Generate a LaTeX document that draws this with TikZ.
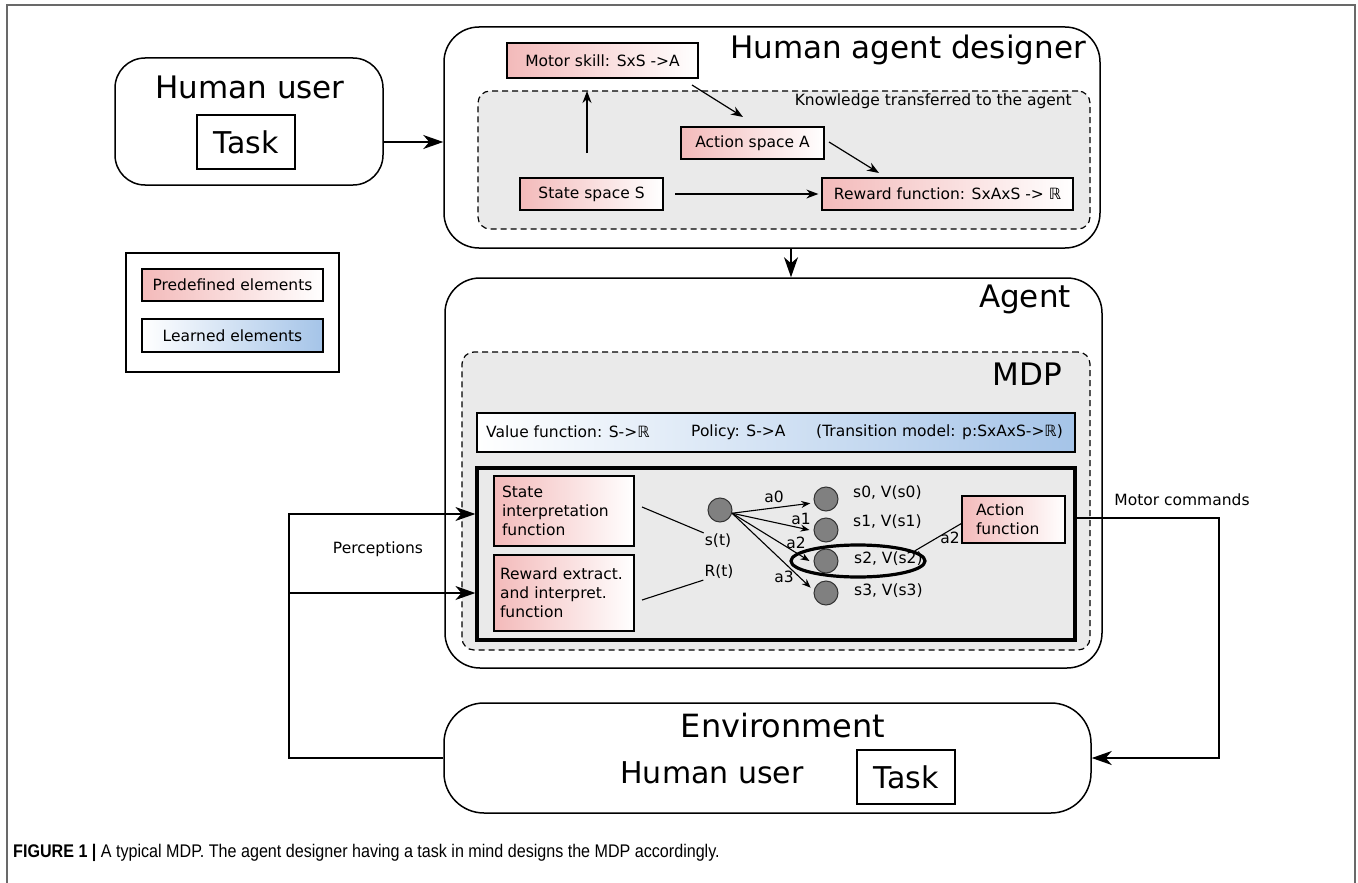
\documentclass[tikz,border=0pt]{standalone}
\usepackage{fontspec}
\setmainfont{DejaVu Sans}
\newfontfamily\capfont[FakeStretch=0.88]{Liberation Sans}
\usetikzlibrary{arrows.meta,shapes.geometric}
\definecolor{pinkL}{RGB}{243,186,186}
\definecolor{blueR}{RGB}{165,196,232}
\definecolor{panel}{RGB}{234,234,234}
\definecolor{framec}{RGB}{105,105,105}
\definecolor{circ}{RGB}{128,128,128}
\begin{document}
\begin{tikzpicture}[x=1pt,y=-1pt,
  txt/.style={font=\fontsize{15.5}{19}\selectfont, inner sep=1pt},
  ttl/.style={font=\fontsize{31}{36}\selectfont, inner sep=0pt},
  bigbox/.style={draw, line width=1.5pt, rounded corners=35pt, inner sep=0pt},
  dashbox/.style={draw, line width=1.2pt, dash pattern=on 6pt off 4pt, fill=panel, rounded corners=12pt, inner sep=0pt},
  predef/.style={draw, line width=1.3pt, left color=pinkL, right color=white, inner sep=0pt, font=\fontsize{15.5}{19}\selectfont},
  learned/.style={draw, line width=1.3pt, left color=white, right color=blueR, inner sep=0pt, font=\fontsize{15.5}{19}\selectfont},
  taskbox/.style={draw, line width=1.3pt, fill=white, inner sep=0pt, font=\fontsize{30}{36}\selectfont},
  arr/.style={-{Stealth[length=12pt,width=9pt]}, line width=1.2pt},
  sarr/.style={-{Stealth[length=9pt,width=7pt]}, line width=1.1pt},
  bigarr/.style={-{Stealth[length=20pt,width=14pt,inset=6pt]}, line width=1.5pt},
  state/.style={circle, draw=black!80, fill=circ, line width=1pt, minimum size=24pt, inner sep=0pt},
]
\useasboundingbox (0,0) rectangle (1358,883);
\fill[white] (0,0) rectangle (1358,883);
% frame
\draw[framec, line width=1.5pt] (7,883) -- (7,5) -- (1355,5) -- (1355,883);

% Human user (top)
\node[bigbox, rounded corners=30pt, minimum width=268pt, minimum height=127pt] (hu) at (249,121.5) {};
\node[ttl] (hut) at (250,87) {Human user};
\node[taskbox, minimum width=98pt, minimum height=54pt] (task1) at (246,142) {Task};

% Human agent designer
\node[bigbox, minimum width=656pt, minimum height=221pt] (had) at (772,137.5) {};
\node[ttl, anchor=east] (hadt) at (1086,50) {Human agent designer};
\node[dashbox, minimum width=612pt, minimum height=138pt] (know) at (784,160) {};
\node[txt, anchor=east] (knowt) at (1073,101) {Knowledge transferred to the agent};
\node[predef, minimum width=191pt, minimum height=35pt] (ms) at (602.5,60.5) {Motor skill: SxS ->A};
\node[predef, minimum width=143pt, minimum height=32pt] (as) at (752.5,143) {Action space A};
\node[predef, minimum width=143pt, minimum height=32pt] (ss) at (591.5,194) {State space S};
\node[predef, minimum width=251pt, minimum height=32pt] (rf) at (947.5,194) {Reward function: SxAxS -> ℝ};
\coordinate (u1) at (587,153);
\coordinate (u2) at (587,91);
\draw[arr] (u1) -- (u2);
\coordinate (m1) at (692,85);
\coordinate (m2) at (743,117);
\draw[arr] (m1) -- (m2);
\coordinate (r1) at (829,142);
\coordinate (r2) at (879,173);
\draw[arr] (r1) -- (r2);
\coordinate (s1) at (675,194);
\draw[arr] (s1) -- ([xshift=-3pt]rf.west);

\draw[bigarr] (hu.east |- task1) -- (had.west |- task1);

% Legend
\node[draw, line width=1.3pt, minimum width=213pt, minimum height=119pt, inner sep=0pt] (leg) at (232.5,312.5) {};
\node[predef, minimum width=181pt, minimum height=32pt] (pred) at (232.5,285) {Predefined elements};
\node[learned, minimum width=181pt, minimum height=33pt] (lrn) at (232.5,335.5) {Learned elements};

% Agent
\node[bigbox, minimum width=657pt, minimum height=390pt] (agent) at (773.5,473) {};
\coordinate (hx) at (791,0);
\draw[bigarr] (had.south -| hx) -- (agent.north -| hx);
\node[ttl, anchor=east] (agentt) at (1071,299) {Agent};
\node[dashbox, minimum width=628pt, minimum height=298pt] (mdp) at (776,501) {};
\node[ttl, anchor=east] (mdpt) at (1062,374) {MDP};
\node[learned, minimum width=598pt, minimum height=39pt] (vf) at (776,432.5) {};
\node[txt, anchor=west] (vf1) at (485,432) {Value function: S->ℝ};
\node[txt, anchor=west] (vf2) at (690,432) {Policy: S->A};
\node[txt, anchor=west] (vf3) at (815,432) {(Transition model: p:SxAxS->ℝ)};
\node[draw, line width=3.2pt, fill=panel, minimum width=598pt, minimum height=172pt, inner sep=0pt] (thick) at (776,554) {};

\node[predef, text width=124pt, inner xsep=8pt, align=left, minimum height=70pt] (si) at (564,511) {State\\interpretation\\function};
\node[predef, text width=128pt, inner xsep=6pt, align=left, minimum height=76pt] (re) at (564,593) {\mbox{Reward extract.}\\\mbox{and interpret.}\\function};
\node[predef, text width=75pt, inner xsep=14pt, align=left, minimum height=47pt] (af) at (1013.5,519.5) {Action\\function};

\node[txt] (st) at (718,541) {s(t)};
\node[txt] (rt) at (719,572) {R(t)};
\coordinate (siL) at (642,507);
\coordinate (reL) at (642,600);
\draw[line width=1.1pt] (siL) -- (st.north west);
\draw[line width=1.1pt] (reL) -- (rt.south west);

\node[state] (src) at (720,510) {};
\node[state] (c0) at (826,499) {};
\node[state] (c1) at (826,530) {};
\node[state] (c2) at (826,561) {};
\node[state] (c3) at (826,593) {};
\draw[sarr] (src.-15) -- ([xshift=-4pt]c0.200);
\draw[sarr] (src.-15) -- ([xshift=-4pt]c1.west);
\draw[sarr] (src.-15) -- ([xshift=-4pt]c2.west);
\draw[sarr] (src.-15) -- ([xshift=-4pt]c3.155);
\node[txt] (la0) at (774,497) {a0};
\node[txt] (la1) at (801,519) {a1};
\node[txt] (la2) at (796,543) {a2};
\node[txt] (la3) at (784,577) {a3};
\node[txt, anchor=west] (v0) at (852,493) {s0, V(s0)};
\node[txt, anchor=west] (v1) at (852,522) {s1, V(s1)};
\node[txt, anchor=west] (v2) at (853,559) {s2, V(s2)};
\node[txt, anchor=west] (v3) at (853,591) {s3, V(s3)};
\node[ellipse, draw, line width=3.2pt, minimum width=134pt, minimum height=32pt, inner sep=0pt] (ell) at (858,561) {};
\draw[line width=1.1pt] ([yshift=-4pt]af.west) -- (ell.10);
\node[txt] (la2b) at (950,538) {a2};

% Environment
\node[bigbox, rounded corners=40pt, minimum width=647pt, minimum height=110pt] (env) at (767.5,758) {};
\node[ttl, font=\fontsize{32}{38}\selectfont] (envt) at (783,726) {Environment};
\node[ttl, font=\fontsize{30}{36}\selectfont] (hu2) at (712,773) {Human user};
\node[taskbox, minimum width=98pt, minimum height=54pt] (task2) at (906,777) {Task};

% Perceptions
\coordinate (pT) at (289,514);
\coordinate (pB) at (289,593);
\draw[bigarr] (env.west) -| (pT) -- (thick.west |- pT);
\draw[bigarr] (pB) -- (thick.west |- pB);
\node[txt] (perc) at (378,549) {Perceptions};

% Motor commands
\coordinate (mR) at (1219,518);
\draw[bigarr] (thick.east |- mR) -- (mR) |- (env.east);
\node[txt] (motc) at (1182,500) {Motor commands};

% caption
\node[anchor=west, inner sep=0pt, font=\capfont\fontsize{18.3}{22}\selectfont] (cap) at (13,853) {\textbf{FIGURE 1 |} A typical MDP. The agent designer having a task in mind designs the MDP accordingly.};
\end{tikzpicture}
\end{document}
